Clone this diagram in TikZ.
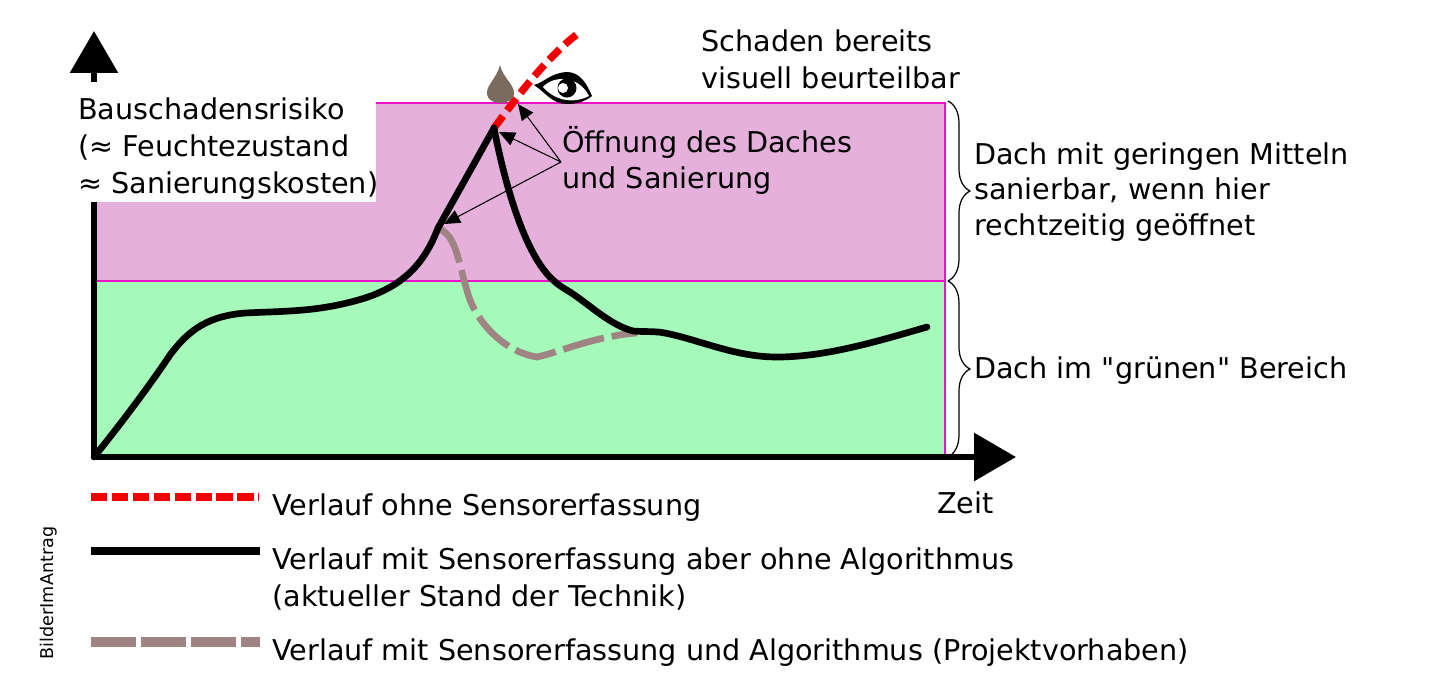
\documentclass[tikz,border=0pt]{standalone}
\usepackage{fontspec}
\setmainfont{DejaVu Sans}[Ligatures=TeXOff]
\usetikzlibrary{arrows.meta, positioning, decorations.pathreplacing}
\definecolor{zonepink}{HTML}{E6B0DC}
\definecolor{zonegreen}{HTML}{A5F9B9}
\definecolor{zoneline}{HTML}{EE11CC}
\definecolor{algogray}{HTML}{A08484}
\definecolor{dropbrown}{HTML}{7B6A5E}
\tikzset{
  zone/.style={draw=zoneline, line width=1.1pt},
  axis/.style={line width=3.6pt, -{Triangle[length=.84cm, width=.94cm]}},
  blackcurve/.style={line width=3.8pt, line join=round, line cap=round},
  redcurve/.style={line width=4.2pt, red!95!black, dash pattern=on 8.5pt off 4pt},
  graycurve/.style={line width=3.8pt, algogray, dash pattern=on 24pt off 4.5pt},
  pointer/.style={line width=.6pt, -{Triangle[length=.32cm, width=.28cm]}},
  zonebrace/.style={draw, line width=.7pt, decorate, decoration={brace, amplitude=12.5pt}},
  txt/.style={anchor=base west, align=left, inner sep=0pt, font=\fontsize{16.3}{21}\selectfont},
}
\begin{document}
\begin{tikzpicture}[x=.02cm, y=-.02cm]
\useasboundingbox (0,0) rectangle (1440,674);

\fill[zonepink] (94,103) rectangle (945,281);
\fill[zonegreen] (94,281) rectangle (945,457);
\draw[zone] (94,103) rectangle (945,281);
\draw[zone] (94,281) rectangle (945,457);

\coordinate (origin) at (94,457);
\coordinate (ytip) at (94,31);
\coordinate (xtip) at (1016,457);
\coordinate (peak) at (494,128);
\coordinate (branch) at (438,228);
\coordinate (opening) at (561,162);
\coordinate (drain) at (518,104);
\coordinate (peaktip) at (499,132);
\coordinate (branchtip) at (444,224);
\coordinate (rzone) at (948,101);
\coordinate (mzone) at (948,281);
\coordinate (gzone) at (948,457);

\draw[axis] (origin) -- (ytip);

\draw[redcurve] (peak) .. controls (515,100) and (545,58) .. (580,32);
\draw[graycurve] (branch) .. controls (458,236) and (458,265) .. (470,300) .. controls (480,325) and (505,352) .. (537,357) .. controls (560,352) and (595,336) .. (637,333);
\draw[blackcurve] (origin) .. controls (120,425) and (150,385) .. (170,355) .. controls (190,328) and (210,316) .. (245,313) .. controls (285,311) and (320,312) .. (365,298) .. controls (405,285) and (425,262) .. (branch) -- (peak);
\draw[blackcurve] (peak) .. controls (505,185) and (525,255) .. (553,280) .. controls (558,285) and (565,289) .. (570,292) .. controls (590,305) and (610,325) .. (633,331) .. controls (645,332) and (655,331) .. (665,333) .. controls (700,340) and (735,357) .. (777,357) .. controls (825,357) and (875,342) .. (927,327);

\draw[axis] (origin) -- (xtip);

\node (riskbox) [anchor=north west, fill=white, inner sep=0pt, text width=6.12cm, minimum height=2.4cm, at={(70,82)}] {};
\node (risk) [txt] at (78,193) {Bauschadensrisiko\\(≈ Feuchtezustand\\≈ Sanierungskosten)};

\fill[dropbrown] (500,65) .. controls (497,78) and (487,84) .. (487,93) .. controls (487,100) and (494,103) .. (500,103) .. controls (507,103) and (514,100) .. (514,93) .. controls (514,84) and (503,78) .. (500,65);

\fill[black] (534,85) .. controls (545,82) and (550,73) .. (567,72) .. controls (580,72) and (587,84) .. (592,96) .. controls (585,102) and (575,104) .. (567,104) .. controls (552,104) and (545,92) .. (534,85);
\fill[white] (543,87) .. controls (552,76) and (578,74) .. (589,96) .. controls (578,102) and (558,104) .. (543,87);
\fill[black] (567,88) circle [radius=.19cm];
\fill[white] (563,88) circle [radius=.1cm];

\node (visual) [txt] at (701,88) {Schaden bereits\\visuell beurteilbar};
\node (open) [txt] at (562,188) {Öffnung des Daches\\[-.7pt]und Sanierung};

\draw[pointer] (opening) -- (drain);
\draw[pointer] (opening) -- (peaktip);
\draw[pointer] (opening) -- (branchtip);

\draw[zonebrace] (rzone) -- (mzone);
\draw[zonebrace] (mzone) -- (gzone);

\node (upper) [txt] at (974,235) {Dach mit geringen Mitteln\\[-.9pt]sanierbar, wenn hier\\[-.9pt]rechtzeitig geöffnet};
\node (lower) [txt] at (974,378) {Dach im "grünen" Bereich};
\node (time) [txt] at (937,513) {Zeit};

\coordinate (reda) at (91,497);
\coordinate (redb) at (259,497);
\coordinate (blacka) at (91,551);
\coordinate (blackb) at (260,551);
\coordinate (graya) at (91,642);
\coordinate (grayb) at (260,642);
\draw[line width=4.8pt, red!95!black, dash pattern=on 9.3pt off 2.6pt] (reda) -- (redb);
\draw[line width=4.8pt] (blacka) -- (blackb);
\draw[line width=6pt, algogray, dash pattern=on 25.5pt off 3pt] (graya) -- (grayb);

\node (legred) [txt] at (272,515) {Verlauf ohne Sensorerfassung};
\node (legblack) [txt] at (272,606) {Verlauf mit Sensorerfassung aber ohne Algorithmus\\(aktueller Stand der Technik)};
\node (leggray) [txt] at (272,660) {Verlauf mit Sensorerfassung und Algorithmus (Projektvorhaben)};

\node (tag) [rotate=90, anchor=center, inner sep=0pt, font=\fontsize{10}{12}\selectfont] at (49,593) {BilderImAntrag};
\end{tikzpicture}
\end{document}
